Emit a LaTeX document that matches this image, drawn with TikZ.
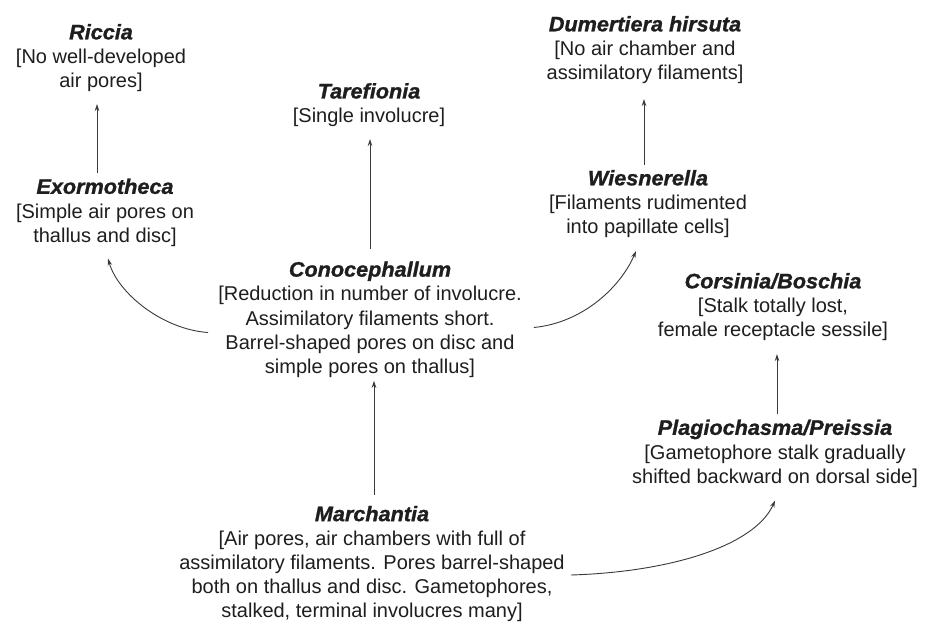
\documentclass[tikz,border=0pt]{standalone}
\usepackage{fontspec}
\setmainfont{Liberation Sans}
\newfontfamily\ttlfont{Liberation Sans Bold Italic}[FakeBold=1.2,FakeStretch=1.03]
\usetikzlibrary{arrows.meta}
\definecolor{ink}{HTML}{1E1E1E}
\definecolor{lineink}{HTML}{3A3A3A}
\newcommand{\ttl}[1]{{\fontsize{21}{24}\selectfont\ttlfont #1}}
\begin{document}
\begin{tikzpicture}[x=1pt,y=-1pt,
  blk/.style={align=center,inner sep=0pt,text=ink,font=\fontsize{20}{24.2}\selectfont},
  arr/.style={draw=lineink,line width=0.9pt,-{Stealth[length=7pt,width=4.5pt]}}]
\useasboundingbox[fill=white] (0,0) rectangle (928,623);
\node[blk] (riccia) at (101,58) {\ttl{Riccia}\\{[}No well-developed\\air pores]};
\node[blk] (exor) at (105,212.5) {\ttl{Exormotheca}\\{[}Simple air pores on\\thallus and disc]};
\node[blk] (taref) at (369,105) {\ttl{Tarefionia}\\{[}Single involucre]};
\node[blk] (dumer) at (645,50) {\ttl{Dumertiera hirsuta}\\{[}No air chamber and\\assimilatory filaments]};
\node[blk] (wies) at (648,204) {\ttl{Wiesnerella}\\{[}Filaments rudimented\\into papillate cells]};
\node[blk] (cono) at (370,319.5) {\ttl{Conocephallum}\\{[}Reduction in number of involucre.\\Assimilatory filaments short.\\Barrel-shaped pores on disc and\\simple pores on thallus]};
\node[blk] (cors) at (773,307) {\ttl{Corsinia/Boschia}\\{[}Stalk totally lost,\\female receptacle sessile]};
\node[blk] (plag) at (775,453.5) {\ttl{Plagiochasma/Preissia}\\{[}Gametophore stalk gradually\\shifted backward on dorsal side]};
\node[blk] (march) at (372,564) {\ttl{Marchantia}\\{[}Air pores, air chambers with full of\\assimilatory filaments. Pores barrel-shaped\\both on thallus and disc. Gametophores,\\stalked, terminal involucres many]};
% straight arrows
\draw[arr,shorten <=5pt,shorten >=12pt] ([xshift=-8pt]exor.north) -- ([xshift=-8pt]exor.north |- riccia.south);
\draw[arr,shorten <=12pt,shorten >=12pt] (cono.north) -- (cono.north |- taref.south);
\draw[arr,shorten <=5pt,shorten >=15pt] ([xshift=-4pt]wies.north) -- ([xshift=-4pt]wies.north |- dumer.south);
\draw[arr,shorten <=11pt,shorten >=3pt] ([xshift=2pt]march.north) -- ([xshift=2pt]march.north |- cono.south);
\draw[arr,shorten <=5pt,shorten >=13pt] ([xshift=2pt]plag.north) -- ([xshift=2pt]plag.north |- cors.south);
% curved arrows
\draw[arr] ([xshift=-10pt,yshift=-13pt]cono.west) .. controls +(-45,-3) and +(10,35) .. ([xshift=3pt,yshift=-12pt]exor.south);
\draw[arr] ([xshift=12pt,yshift=-8pt]cono.east) .. controls +(50,-5) and +(-15,35) .. ([xshift=-12pt,yshift=-13pt]wies.south);
\draw[arr] ([xshift=6pt,yshift=-11pt]march.east) .. controls +(100,-3) and +(-20,45) .. ([xshift=0pt,yshift=-13pt]plag.south);
\end{tikzpicture}
\end{document}
